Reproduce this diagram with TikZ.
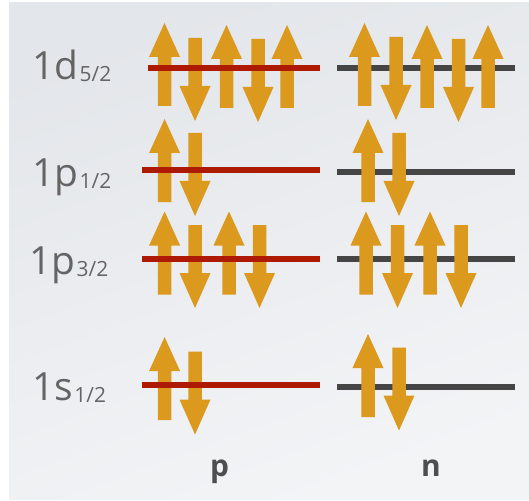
\documentclass[tikz,border=0pt]{standalone}
\usepackage{fontspec}
\setmainfont{Open Sans}
\definecolor{bgA}{HTML}{E3E6EA}
\definecolor{bgB}{HTML}{F3F4F6}
\definecolor{spinc}{HTML}{DB991E}
\definecolor{pred}{HTML}{AE1A00}
\definecolor{ngray}{HTML}{454545}
\definecolor{txt}{HTML}{646464}
\definecolor{txtb}{HTML}{4E4E4E}
\newcommand{\lvl}[2]{{\fontsize{39}{39}\selectfont #1}\kern1.5bp{\fontsize{21}{21}\selectfont\raisebox{-2bp}{#2}}}
\tikzset{
  spin/.style={fill=spinc},
  pline/.style={draw=pred,line width=6bp},
  nline/.style={draw=ngray,line width=6bp},
  lvllabel/.style={anchor=base west,inner sep=0pt,text=txt},
  sidelabel/.style={anchor=base,inner sep=0pt,text=txtb,font=\fontsize{30}{30}\selectfont\bfseries},
  spinup/.pic={\fill[spin] (0,0) -- (15.5,34) -- (6.75,34) -- (6.75,83) -- (-6.75,83) -- (-6.75,34) -- (-15.5,34) -- cycle;},
  spindown/.pic={\fill[spin] (-6.75,0) -- (6.75,0) -- (6.75,48) -- (15.5,48) -- (0,83) -- (-15.5,48) -- (-6.75,48) -- cycle;},
}
\begin{document}
\begin{tikzpicture}[x=1bp,y=-1bp]
\useasboundingbox (0,0) rectangle (529,501);
\fill[white] (0,0) rectangle (529,501);
\shade[shading=axis,top color=bgA,bottom color=bgB,shading angle=20] (9,3) rectangle (529,499);

% labels
\node[lvllabel] (l1d) at (32,80) {\lvl{1d}{5/2}};
\node[lvllabel] (l1p1) at (32,187) {\lvl{1p}{1/2}};
\node[lvllabel] (l1p3) at (29,274) {\lvl{1p}{3/2}};
\node[lvllabel] (l1s) at (32,400) {\lvl{1s}{1/2}};
\node[sidelabel] (lp) at (219.5,476) {p};
\node[sidelabel] (ln) at (431,476) {n};

% level end points
\coordinate (pdA) at (148,68);  \coordinate (pdB) at (320,68);
\coordinate (ndA) at (337,68);  \coordinate (ndB) at (515,68);
\coordinate (ppA) at (142,170); \coordinate (ppB) at (320,170);
\coordinate (npA) at (337,172); \coordinate (npB) at (515,172);
\coordinate (pqA) at (142,259); \coordinate (pqB) at (320,259);
\coordinate (nqA) at (337,259); \coordinate (nqB) at (515,259);
\coordinate (psA) at (142,385); \coordinate (psB) at (320,385);
\coordinate (nsA) at (337,387); \coordinate (nsB) at (515,387);

% proton arrows (line drawn over them)
\pic at (164.5,23) {spinup};
\pic at (195,38) {spindown};
\pic at (226.5,25) {spinup};
\pic at (258,39) {spindown};
\pic at (287,25) {spinup};
\pic at (164.6,119) {spinup};
\pic at (195,133) {spindown};
\pic at (164.6,211.5) {spinup};
\pic at (195,225) {spindown};
\pic at (229,211.5) {spinup};
\pic at (259.5,225) {spindown};
\pic at (164.6,337) {spinup};
\pic at (195,351.5) {spindown};

\draw[pline] (pdA) -- (pdB);
\draw[pline] (ppA) -- (ppB);
\draw[pline] (pqA) -- (pqB);
\draw[pline] (psA) -- (psB);

% neutron lines (arrows drawn over them)
\draw[nline] (ndA) -- (ndB);
\draw[nline] (npA) -- (npB);
\draw[nline] (nqA) -- (nqB);
\draw[nline] (nsA) -- (nsB);

\pic at (364.5,23) {spinup};
\pic at (396,37) {spindown};
\pic at (427,25) {spinup};
\pic at (458.5,39) {spindown};
\pic at (488,25) {spinup};
\pic at (368,119) {spinup};
\pic at (399,133) {spindown};
\pic at (366,211.5) {spinup};
\pic at (397.5,225) {spindown};
\pic at (430,211.5) {spinup};
\pic at (461,225) {spindown};
\pic at (368,334) {spinup};
\pic at (399,347.5) {spindown};
\end{tikzpicture}
\end{document}
